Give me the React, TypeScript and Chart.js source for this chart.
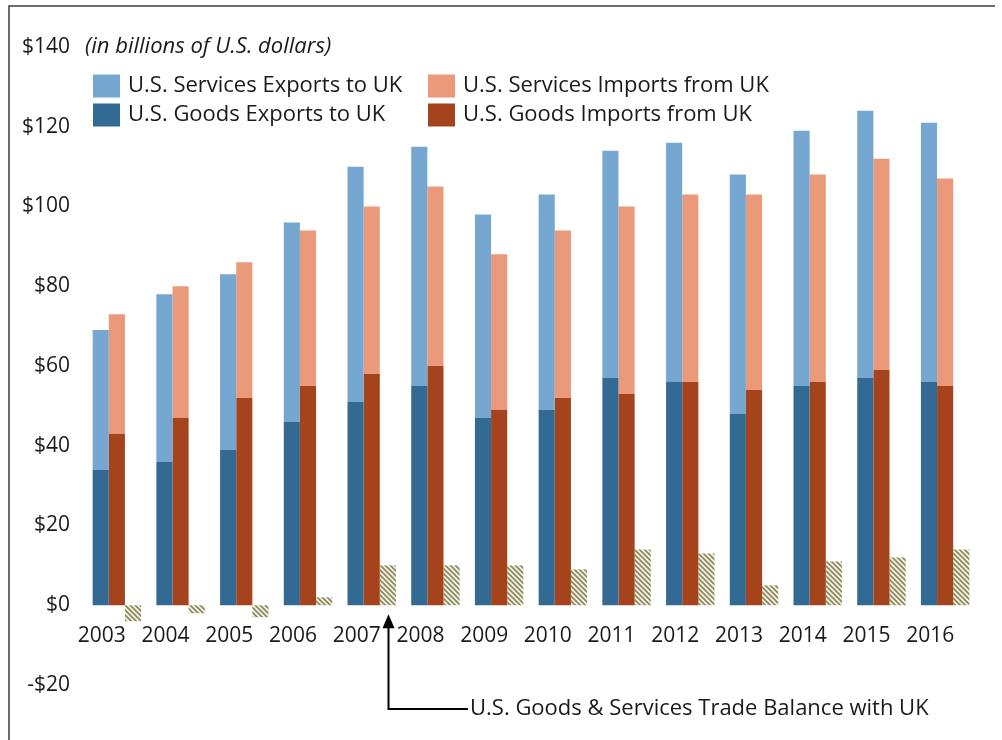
import { useEffect, useRef } from "react";
import { Chart, registerables } from "chart.js";

Chart.register(...registerables);

const years = ["2003", "2004", "2005", "2006", "2007", "2008", "2009", "2010", "2011", "2012", "2013", "2014", "2015", "2016"];
const goodsExports = [34, 36, 39, 46, 51, 55, 47, 49, 57, 56, 48, 55, 57, 56];
const servicesExports = [35, 42, 44, 50, 59, 60, 51, 54, 57, 60, 60, 64, 67, 65];
const goodsImports = [43, 47, 52, 55, 58, 60, 49, 52, 53, 56, 54, 56, 59, 55];
const servicesImports = [30, 33, 34, 39, 42, 45, 39, 42, 47, 47, 49, 52, 53, 52];
const tradeBalance = [-4, -2, -3, 2, 10, 10, 10, 9, 14, 13, 5, 11, 12, 14];
const yMin = -20;
const yMax = 140;
const yStep = 20;

const seriesNames = [
  "U.S. Goods Exports to UK",
  "U.S. Services Exports to UK",
  "U.S. Goods Imports from UK",
  "U.S. Services Imports from UK",
  "U.S. Goods & Services Trade Balance with UK",
];
const unitNote = "(in billions of U.S. dollars)";
const arrowYear = "2007";

const FONT = "'Open Sans', sans-serif";
const TEXT = "#1a1a1a";

function makeHatch(): CanvasPattern | string {
  const c = document.createElement("canvas");
  c.width = 5;
  c.height = 5;
  const g = c.getContext("2d");
  if (!g) return "#9a9770";
  g.fillStyle = "#f2f0e4";
  g.fillRect(0, 0, 5, 5);
  g.strokeStyle = "#8a875a";
  g.lineWidth = 1.6;
  g.beginPath();
  g.moveTo(-1, -1);
  g.lineTo(6, 6);
  g.moveTo(-1, 4);
  g.lineTo(1, 6);
  g.moveTo(4, -1);
  g.lineTo(6, 1);
  g.stroke();
  const p = g.createPattern(c, "repeat");
  return p || "#9a9770";
}

const decorPlugin = {
  id: "decor",
  beforeDraw(chart: any) {
    const ctx = chart.ctx as CanvasRenderingContext2D;
    ctx.save();
    ctx.fillStyle = "#ffffff";
    ctx.fillRect(0, 0, chart.width, chart.height);
    ctx.strokeStyle = "#3c3c3c";
    ctx.lineWidth = 1.5;
    ctx.beginPath();
    ctx.moveTo(9, chart.height);
    ctx.lineTo(9, 6);
    ctx.lineTo(995, 6);
    ctx.stroke();
    ctx.restore();
  },
  afterDraw(chart: any) {
    const ctx = chart.ctx as CanvasRenderingContext2D;
    const ds = chart.data.datasets;
    const yScale = chart.scales.y;
    ctx.save();
    ctx.fillStyle = TEXT;
    ctx.font = `italic 22px ${FONT}`;
    ctx.textBaseline = "middle";
    ctx.textAlign = "left";
    ctx.fillText(unitNote, 85, yScale.getPixelForValue(yMax));

    const items: [number, number, number][] = [
      [1, 93, 86],
      [3, 428, 86],
      [0, 93, 115],
      [2, 428, 115],
    ];
    ctx.font = `22px ${FONT}`;
    for (const [i, x, y] of items) {
      ctx.fillStyle = ds[i].backgroundColor;
      ctx.fillRect(x, y - 11.5, 27, 23);
      ctx.fillStyle = TEXT;
      ctx.fillText(ds[i].label, x + 35, y);
    }

    const idx = years.indexOf(arrowYear);
    const bar = chart.getDatasetMeta(4).data[idx];
    const ax = Math.round(bar.x) + 0.5;
    const tipY = yScale.getPixelForValue(0) + 9;
    const lineY = 709;
    ctx.strokeStyle = "#000000";
    ctx.lineWidth = 2;
    ctx.beginPath();
    ctx.moveTo(ax, tipY + 12);
    ctx.lineTo(ax, lineY);
    ctx.lineTo(468, lineY);
    ctx.stroke();
    ctx.fillStyle = "#000000";
    ctx.beginPath();
    ctx.moveTo(ax, tipY);
    ctx.lineTo(ax - 6, tipY + 14);
    ctx.lineTo(ax + 6, tipY + 14);
    ctx.closePath();
    ctx.fill();
    ctx.fillStyle = TEXT;
    ctx.font = `22px ${FONT}`;
    ctx.fillText(ds[4].label, 470, lineY);
    ctx.restore();
  },
};

export default function App() {
  const ref = useRef<HTMLCanvasElement | null>(null);
  useEffect(() => {
    if (!ref.current) return;
    const hatch = makeHatch();
    const chart = new Chart(ref.current, {
      type: "bar",
      data: {
        labels: years,
        datasets: [
          { label: seriesNames[0], data: goodsExports, backgroundColor: "#336a93", stack: "exp" },
          { label: seriesNames[1], data: servicesExports, backgroundColor: "#75a7d0", stack: "exp" },
          { label: seriesNames[2], data: goodsImports, backgroundColor: "#a5441c", stack: "imp" },
          { label: seriesNames[3], data: servicesImports, backgroundColor: "#ea9a7a", stack: "imp" },
          { label: seriesNames[4], data: tradeBalance, backgroundColor: hatch as any, stack: "bal" },
        ],
      },
      options: {
        responsive: false,
        animation: false,
        devicePixelRatio: 1,
        layout: { padding: { left: 10, right: 25, top: 47, bottom: 55 } },
        datasets: { bar: { categoryPercentage: 0.76, barPercentage: 1, borderWidth: 0 } },
        plugins: { legend: { display: false }, tooltip: { enabled: false } },
        scales: {
          x: {
            stacked: true,
            position: { y: 0 } as any,
            grid: { display: false, drawTicks: false },
            border: { display: false },
            ticks: {
              color: TEXT,
              font: { family: FONT, size: 21 },
              labelOffset: -15,
              padding: 18,
              maxRotation: 0,
              autoSkip: false,
            },
          },
          y: {
            stacked: true,
            min: yMin,
            max: yMax,
            grid: { display: false, drawTicks: false },
            border: { display: false },
            afterFit: (s: any) => {
              s.width = 75;
            },
            ticks: {
              stepSize: yStep,
              padding: 15,
              color: TEXT,
              font: { family: FONT, size: 21 },
              callback: (v: any) => (Number(v) < 0 ? `-$${-Number(v)}` : `$${v}`),
            },
          },
        },
      },
      plugins: [decorPlugin],
    });
    return () => chart.destroy();
  }, []);
  return (
    <div style={{ position: "absolute", left: 0, top: 0, width: 1002, height: 740 }}>
      <canvas ref={ref} width={1002} height={740} style={{ width: 1002, height: 740, display: "block" }} />
    </div>
  );
}
